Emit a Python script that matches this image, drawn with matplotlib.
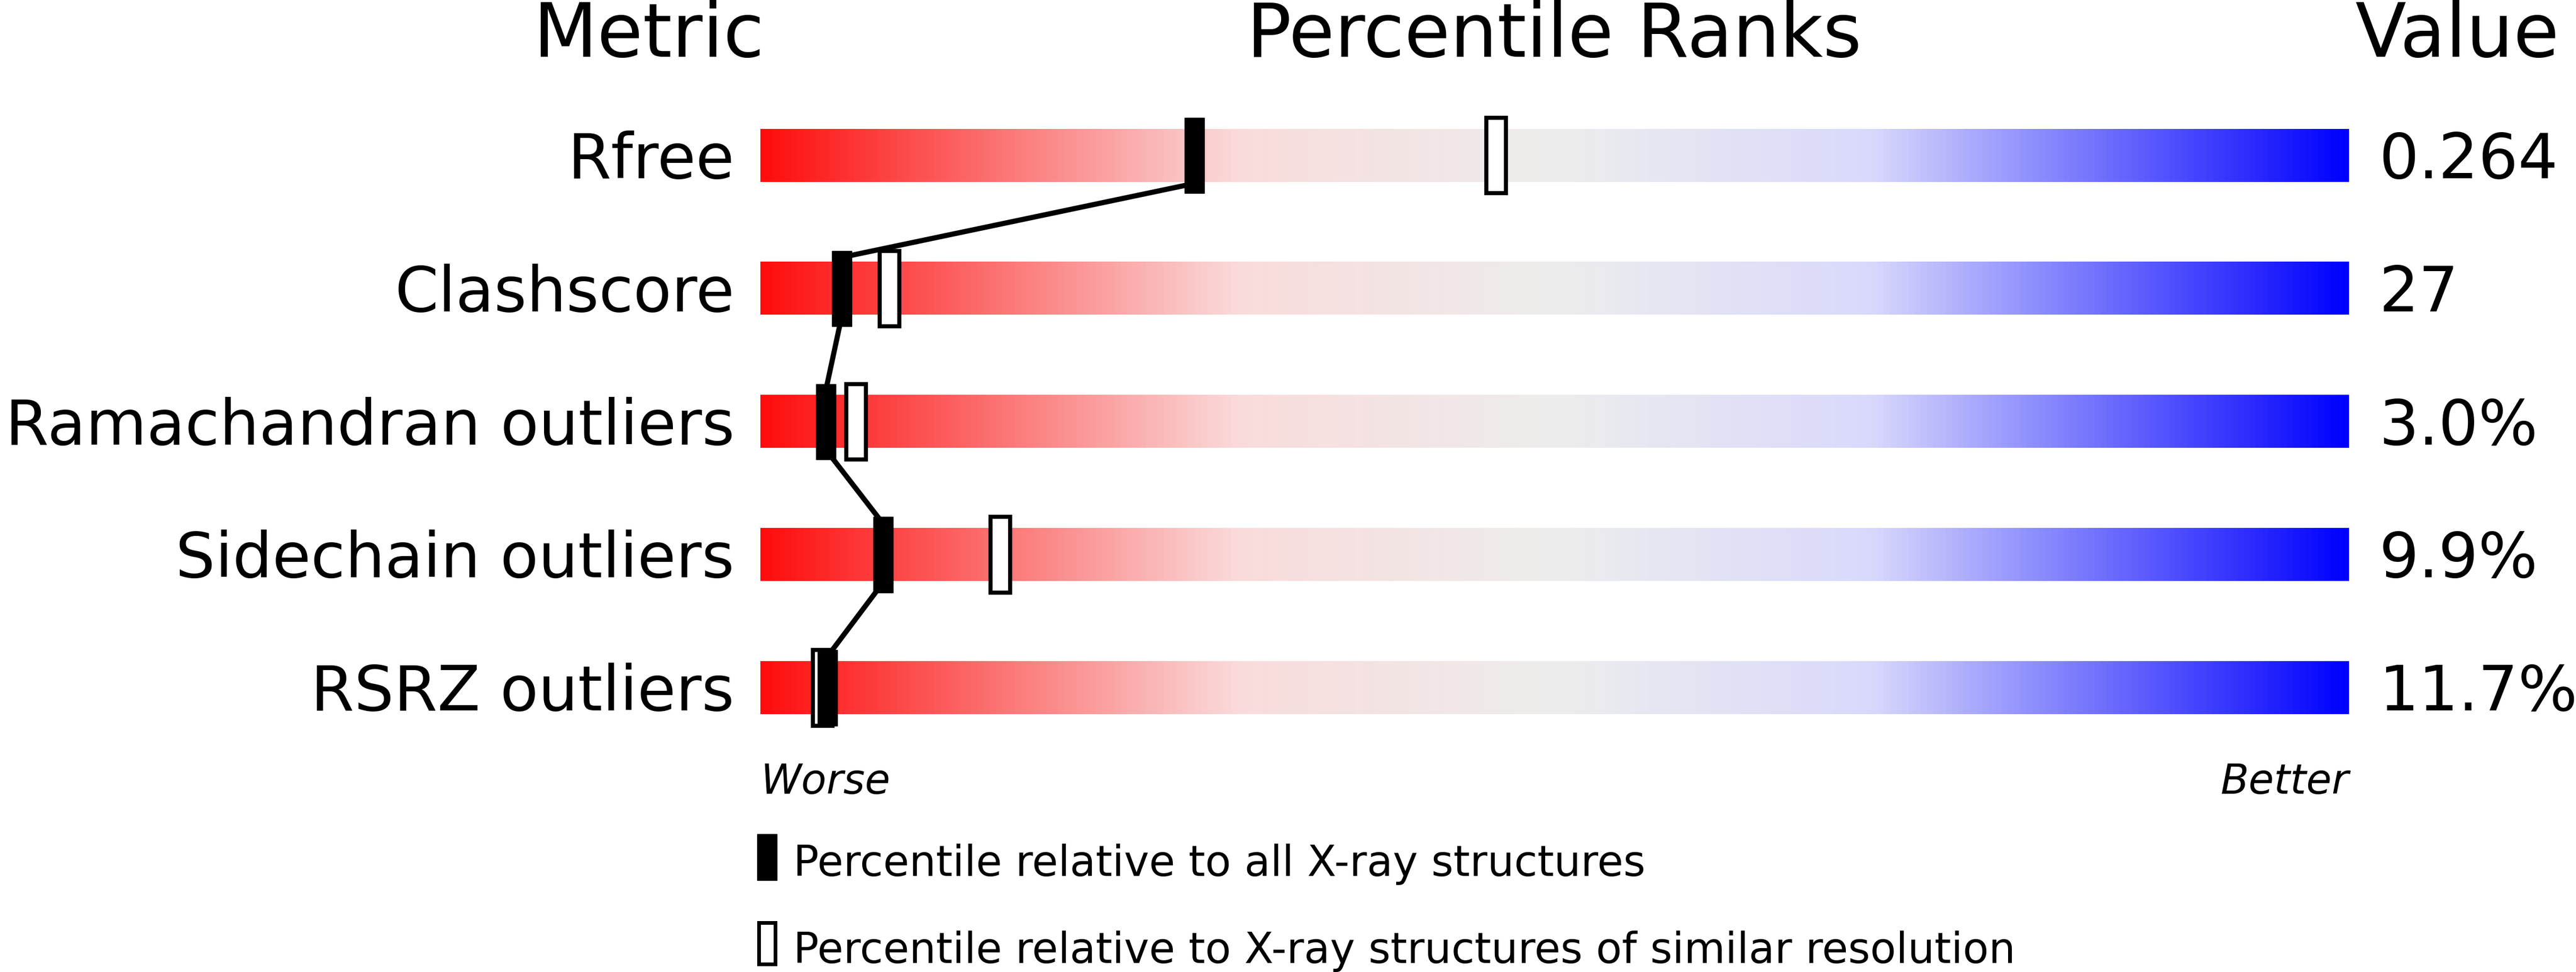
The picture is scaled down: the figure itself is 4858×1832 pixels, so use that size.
import numpy as np
import matplotlib.pyplot as plt
from matplotlib.colors import LinearSegmentedColormap
from matplotlib.patches import Rectangle

metrics = ["Rfree", "Clashscore", "Ramachandran outliers", "Sidechain outliers", "RSRZ outliers"]
values = ["0.264", "27", "3.0%", "9.9%", "11.7%"]
pct_all = [27.3, 5.1, 4.1, 7.7, 4.2]
pct_res = [46.3, 8.1, 6.0, 15.1, 3.9]

# layout in "display" units of a 1568 x 592 canvas
W, H = 1568, 592
bar_l, bar_r = 463, 1430
row_y = [95, 176, 257, 338, 419]
bar_h = 32
mk_w, mk_h = 12, 46

def px(p):
    return bar_l + p / 100 * (bar_r - bar_l)

cmap = LinearSegmentedColormap.from_list("wb", [
    (0.0, (1, 0.05, 0.05)), (0.3, (0.98, 0.86, 0.86)), (0.5, (0.93, 0.93, 0.93)),
    (0.7, (0.85, 0.85, 0.99)), (1.0, (0.0, 0.0, 1.0))])

fig = plt.figure(figsize=(48.58, 18.33), dpi=100)
ax = fig.add_axes([0, 0, 1, 1])
ax.set_xlim(0, W)
ax.set_ylim(H, 0)
ax.axis("off")

grad = np.linspace(0, 1, 512).reshape(1, -1)
for y in row_y:
    ax.imshow(grad, cmap=cmap, aspect="auto",
              extent=[bar_l, bar_r, y + bar_h / 2, y - bar_h / 2], zorder=1)

# connecting line
for i in range(len(row_y) - 1):
    ax.plot([px(pct_all[i]), px(pct_all[i + 1])],
            [row_y[i] + mk_h / 2 - 6, row_y[i + 1] - mk_h / 2 + 4],
            color="black", lw=7, zorder=2)

for y, pa, pr in zip(row_y, pct_all, pct_res):
    ax.add_patch(Rectangle((px(pr) - mk_w / 2, y - mk_h / 2), mk_w, mk_h,
                           facecolor="white", edgecolor="black", lw=5.5, zorder=3))
    ax.add_patch(Rectangle((px(pa) - mk_w / 2, y - mk_h / 2), mk_w, mk_h,
                           facecolor="black", edgecolor="black", lw=1, zorder=4))

for y, m, v in zip(row_y, metrics, values):
    ax.text(447, y + 3, m, ha="right", va="center", fontsize=85)
    ax.text(1448, y + 3, v, ha="left", va="center", fontsize=85)

ax.text(395, 22, "Metric", ha="center", va="center", fontsize=101)
ax.text(946, 22, "Percentile Ranks", ha="center", va="center", fontsize=101)
ax.text(1558, 22, "Value", ha="right", va="center", fontsize=101)

ax.text(bar_l, 476, "Worse", ha="left", va="center", fontsize=56, style="italic")
ax.text(bar_r, 476, "Better", ha="right", va="center", fontsize=56, style="italic")

ax.add_patch(Rectangle((461, 508), 12, 28, facecolor="black", edgecolor="black", lw=1))
ax.text(483, 526, "Percentile relative to all X-ray structures", ha="left", va="center", fontsize=57.5)
ax.add_patch(Rectangle((462, 562), 10, 25, facecolor="white", edgecolor="black", lw=5))
ax.text(483, 579, "Percentile relative to X-ray structures of similar resolution",
        ha="left", va="center", fontsize=57.5)

fig.savefig("out.png", dpi=100)
